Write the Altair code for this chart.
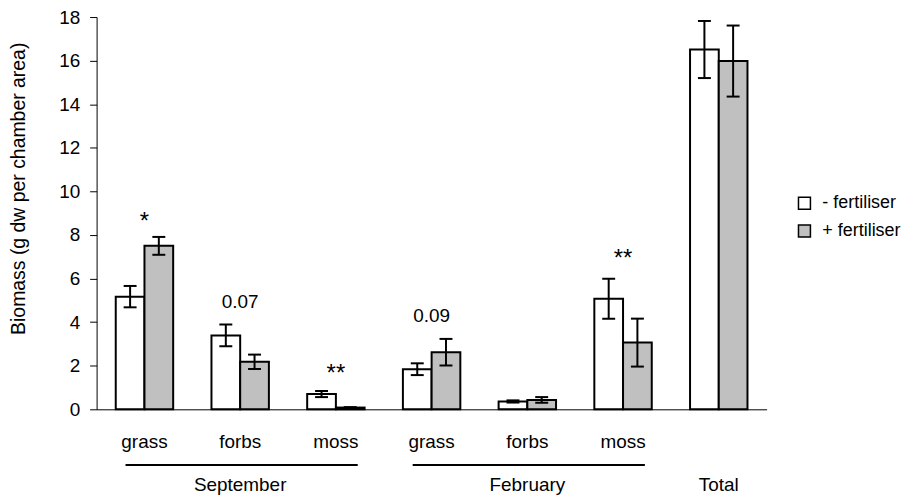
import altair as alt
import pandas as pd

# ---- data ----
categories = ["Sep grass", "Sep forbs", "Sep moss", "Feb grass", "Feb forbs", "Feb moss", "Total"]
cat_labels = ["grass", "forbs", "moss", "grass", "forbs", "moss"]
treatments = ["- fertiliser", "+ fertiliser"]

minus_mean = [5.17, 3.39, 0.70, 1.84, 0.36, 5.07, 16.51]
minus_se = [0.49, 0.50, 0.14, 0.27, 0.05, 0.92, 1.31]
plus_mean = [7.50, 2.18, 0.08, 2.62, 0.43, 3.06, 15.98]
plus_se = [0.41, 0.33, 0.02, 0.61, 0.13, 1.10, 1.63]

ann_cat = ["Sep grass", "Sep forbs", "Sep moss", "Feb grass", "Feb moss"]
ann_text = ["*", "0.07", "**", "0.09", "**"]
ann_y = [8.6, 4.93, 1.6, 4.29, 6.9]

month_cat = ["Sep forbs", "Feb forbs", "Total"]
month_text = ["September", "February", "Total"]

line_start = ["Sep grass", "Feb grass"]
line_end = ["Sep moss", "Feb moss"]

# ---- tables ----
rows = []
for i, c in enumerate(categories):
    rows.append({"cat": c, "treatment": treatments[0], "mean": minus_mean[i],
                 "lo": minus_mean[i] - minus_se[i], "hi": minus_mean[i] + minus_se[i]})
    rows.append({"cat": c, "treatment": treatments[1], "mean": plus_mean[i],
                 "lo": plus_mean[i] - plus_se[i], "hi": plus_mean[i] + plus_se[i]})
bars_df = pd.DataFrame(rows)
ann_df = pd.DataFrame({"cat": ann_cat, "txt": ann_text, "ay": ann_y})
lab_df = pd.DataFrame({"cat": categories[:6], "txt": cat_labels})
month_df = pd.DataFrame({"cat": month_cat, "txt": month_text})
line_df = pd.DataFrame({"cat": line_start, "cat_end": line_end})

FONT = "Liberation Sans"

x_scale = alt.Scale(domain=categories, paddingInner=0.4, paddingOuter=0.2)
x_enc = alt.X("cat:N", scale=x_scale,
              axis=alt.Axis(labels=False, ticks=False, title=None, domainColor="black", domainWidth=1))
xoff = alt.XOffset("treatment:N", scale=alt.Scale(domain=treatments, paddingInner=0, paddingOuter=0))
y_scale = alt.Scale(domain=[0, 18], nice=False)
y_axis = alt.Axis(values=list(range(0, 19, 2)), tickSize=7, tickColor="black", domainColor="black",
                  labelFontSize=19, labelPadding=10, labelColor="black", grid=False,
                  title="Biomass (g dw per chamber area)", titleFontSize=19.5, titleFontWeight="normal",
                  titleColor="black", titleX=-68, titleY=172)

bars = alt.Chart(bars_df).mark_bar(stroke="black", strokeWidth=2).encode(
    x=x_enc,
    xOffset=xoff,
    y=alt.Y("mean:Q", scale=y_scale, axis=y_axis),
    fill=alt.Fill("treatment:N", scale=alt.Scale(domain=treatments, range=["white", "#c0c0c0"]),
                  legend=alt.Legend(title=None, orient="none", legendX=702, legendY=178,
                                    symbolType="square", symbolSize=144, symbolStrokeColor="black",
                                    symbolStrokeWidth=1.5, labelFontSize=18, labelFont=FONT,
                                    labelColor="black", labelOffset=9, rowPadding=10, padding=0)),
)

err = alt.Chart(bars_df).mark_rule(color="black", strokeWidth=2).encode(
    x="cat:N", xOffset="treatment:N", y="lo:Q", y2="hi:Q")

caps = alt.Chart(bars_df).transform_fold(["lo", "hi"], as_=["k", "v"]).mark_tick(
    color="black", thickness=2, size=13, opacity=1).encode(
    x="cat:N", xOffset="treatment:N", y="v:Q")

nums = alt.Chart(ann_df).transform_filter("datum.txt != '*' && datum.txt != '**'").mark_text(
    fontSize=19, font=FONT, color="black", baseline="middle").encode(
    x="cat:N", y="ay:Q", text="txt:N")

stars = alt.Chart(ann_df).transform_filter("datum.txt == '*' || datum.txt == '**'").mark_text(
    fontSize=24, font=FONT, color="black", baseline="middle").encode(
    x="cat:N", y="ay:Q", text="txt:N")

labels = alt.Chart(lab_df).mark_text(fontSize=19, font=FONT, color="black", baseline="middle").encode(
    x="cat:N", y=alt.value(427), text="txt:N")

months = alt.Chart(month_df).mark_text(fontSize=19, font=FONT, color="black", baseline="alphabetic").encode(
    x="cat:N", y=alt.value(476), text="txt:N")

lines = alt.Chart(line_df).mark_rule(color="black", strokeWidth=2).encode(
    x=alt.X("cat:N", bandPosition=0.17), x2=alt.X2("cat_end", bandPosition=0.88), y=alt.value(450))

chart = alt.layer(bars, err, caps, nums, stars, labels, months, lines).properties(
    width=673, height=394,
    autosize=alt.AutoSizeParams(type="none"),
    padding={"left": 89, "top": 8, "right": 140, "bottom": 86},
).configure(font=FONT).configure_view(stroke=None)

chart.save("out.html", embed_options={"renderer": "svg", "actions": False})
